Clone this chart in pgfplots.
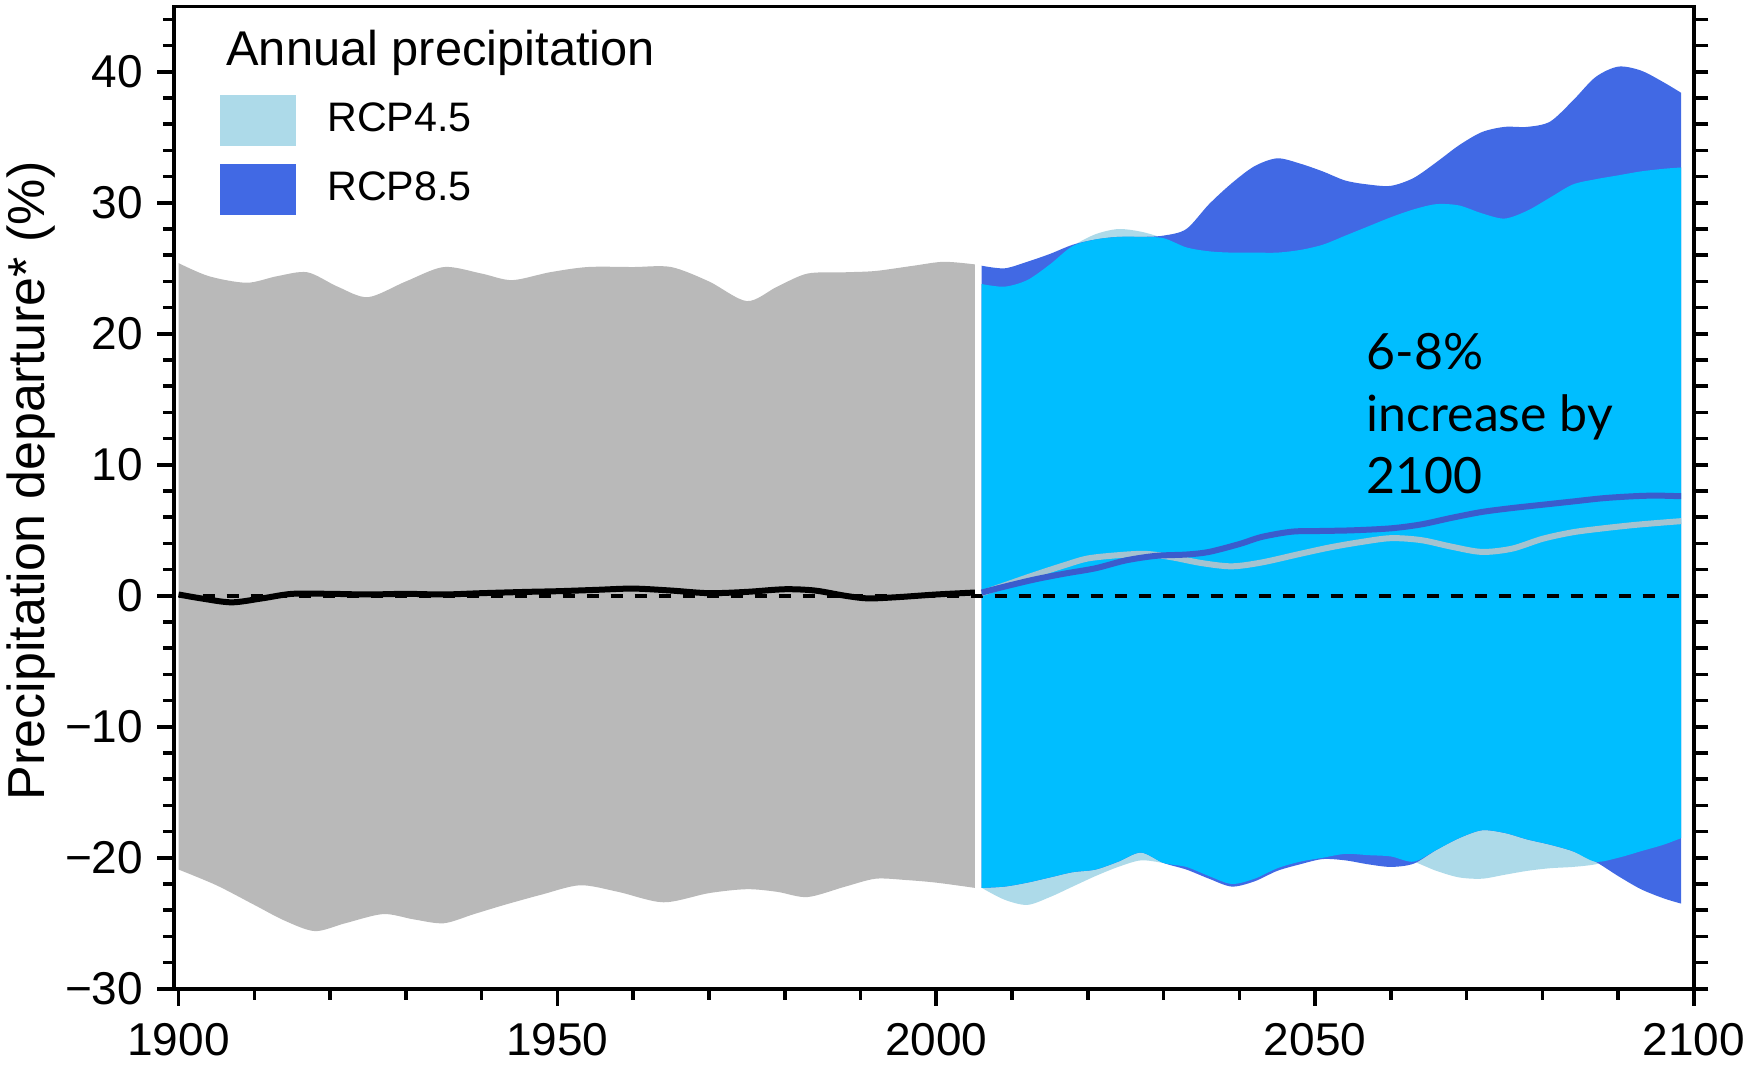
\documentclass[border=0pt]{standalone}
\usepackage{fontspec}
\setmainfont{Liberation Sans}
\newfontfamily\annofont{Lato}
\usepackage{pgfplots}
\usepackage{pgfplotstable}
\pgfplotsset{compat=1.18}
\usepgfplotslibrary{fillbetween}

\definecolor{histgray}{RGB}{185,185,185}
\definecolor{rcpfour}{RGB}{173,218,233}
\definecolor{rcpeight}{RGB}{65,105,228}
\definecolor{overlap}{RGB}{0,190,255}
\definecolor{meaneight}{RGB}{58,92,205}
\definecolor{meanfour}{RGB}{165,195,208}

% historical envelope and mean
\pgfplotstableread{
year hi
1900 25.4
1904 24.4
1909 23.9
1913 24.4
1917 24.7
1921 23.6
1925 22.8
1930 24.0
1935 25.1
1940 24.6
1944 24.1
1949 24.7
1954 25.1
1960 25.1
1965 25.1
1970 24.0
1975 22.5
1979 23.6
1983 24.6
1988 24.7
1992 24.8
1997 25.2
2001 25.5
2005.1 25.3
}\histhi
\pgfplotstableread{
year lo
1900 -20.9
1905 -22.1
1910 -23.6
1914 -24.8
1918 -25.6
1922 -25.0
1927 -24.3
1931 -24.7
1935 -25.0
1939 -24.3
1943 -23.6
1948 -22.8
1953 -22.1
1958 -22.6
1964 -23.4
1970 -22.7
1975 -22.4
1979 -22.6
1983 -23.0
1988 -22.2
1992 -21.6
1996 -21.7
2000 -21.9
2005.1 -22.3
}\histlo
\pgfplotstableread{
year mean
1900 0.1
1903 -0.2
1907 -0.5
1911 -0.2
1915 0.15
1920 0.15
1925 0.1
1930 0.15
1935 0.1
1940 0.2
1946 0.3
1950 0.35
1955 0.45
1960 0.55
1965 0.4
1970 0.2
1975 0.3
1980 0.5
1984 0.4
1988 0.0
1991 -0.2
1995 -0.1
2000 0.1
2005.1 0.25
}\histmean

% projected envelopes: u/l = upper/lower, ou/ol = overlap of both
\pgfplotstableread{
year u45 l45 u85 l85 ou ol
2006 23.8 -22.3 25.2 -22.3 23.8 -22.3
2009 23.6 -23.2 25.0 -22.2 23.6 -22.2
2012 24.1 -23.6 25.5 -21.9 24.1 -21.9
2015 25.3 -23.0 26.1 -21.5 25.3 -21.5
2018 26.7 -22.2 26.8 -21.1 26.7 -21.1
2021 27.6 -21.4 27.2 -20.9 27.2 -20.9
2024 28.0 -20.7 27.4 -20.3 27.4 -20.3
2027 27.8 -20.2 27.4 -19.6 27.4 -19.6
2030 27.3 -20.4 27.5 -20.4 27.3 -20.4
2033 26.6 -20.7 28.0 -20.9 26.6 -20.7
2036 26.3 -21.4 29.9 -21.6 26.3 -21.4
2039 26.2 -22.0 31.5 -22.2 26.2 -22.0
2042 26.2 -21.6 32.8 -21.8 26.2 -21.6
2045 26.2 -20.8 33.4 -21.0 26.2 -20.8
2048 26.4 -20.3 33.0 -20.5 26.4 -20.3
2051 26.8 -20.0 32.4 -20.1 26.8 -20.0
2054 27.5 -19.7 31.7 -20.2 27.5 -19.7
2057 28.2 -19.8 31.4 -20.5 28.2 -19.8
2060 28.9 -19.9 31.3 -20.7 28.9 -19.9
2063 29.5 -20.3 31.9 -20.45 29.5 -20.3
2066 29.9 -21.0 33.1 -19.4 29.9 -19.4
2069 29.8 -21.5 34.4 -18.5 29.8 -18.5
2072 29.2 -21.6 35.4 -17.9 29.2 -17.9
2075 28.8 -21.3 35.8 -18.1 28.8 -18.1
2078 29.4 -21.0 35.8 -18.6 29.4 -18.6
2081 30.4 -20.8 36.2 -19.0 30.4 -19.0
2084 31.4 -20.7 37.8 -19.5 31.4 -19.5
2087 31.8 -20.5 39.6 -20.3 31.8 -20.3
2090 32.1 -20.0 40.4 -21.4 32.1 -20.0
2093 32.4 -19.5 40.1 -22.4 32.4 -19.5
2096 32.6 -19.0 39.2 -23.1 32.6 -19.0
2098.3 32.7 -18.5 38.4 -23.5 32.7 -18.5
}\future

\pgfplotstableread{
year m85
2006 0.25
2009 0.7
2013 1.25
2017 1.7
2021 2.1
2025 2.7
2029 3.05
2033 3.15
2036 3.35
2040 3.95
2043 4.5
2047 4.9
2051 4.95
2055 5.0
2060 5.15
2064 5.45
2068 5.95
2072 6.4
2076 6.7
2080 6.95
2084 7.2
2088 7.45
2092 7.6
2095 7.65
2098.3 7.6
}\meaneightfive
\pgfplotstableread{
year m45
2006 0.2
2009 0.8
2013 1.6
2017 2.35
2020 2.85
2024 3.1
2027.6 3.2
2031 2.95
2035 2.5
2039 2.25
2043 2.55
2048 3.2
2052 3.7
2056 4.1
2060 4.4
2064 4.25
2068 3.75
2072 3.35
2076 3.6
2080 4.35
2084 4.85
2088 5.15
2092 5.4
2095 5.55
2098.3 5.7
}\meanfourfive

\begin{document}
\begin{tikzpicture}
\begin{axis}[
	scale only axis,
	width=380pt, height=245.6pt,
	xmin=1899.4, xmax=2100,
	ymin=-30, ymax=45,
	axis line style={line width=0.9pt},
	every tick/.style={black, line width=0.9pt},
	tick align=outside,
	xtick pos=left, ytick pos=left,
	major tick length=4.2pt, minor tick length=2.8pt,
	xtick={1900,1950,2000,2050,2100},
	xticklabels={1900,1950,2000,2050,2100},
	minor xtick={1910,1920,1930,1940,1960,1970,1980,1990,2010,2020,2030,2040,2060,2070,2080,2090},
	ytick={-30,-20,-10,0,10,20,30,40},
	yticklabels={−30,−20,−10,0,10,20,30,40},
	minor ytick={-28,-26,...,44},
	tick label style={font=\fontsize{11.5}{13}\selectfont},
	xticklabel style={yshift=-1pt},
	ylabel={Precipitation departure* (\%)},
	ylabel style={font=\fontsize{13}{15}\selectfont, at={(axis description cs:-0.094,0.517)}, anchor=center},
	legend style={at={(0.0296,0.9106)}, anchor=north west, draw=none, fill=none,
		inner sep=0pt, row sep=4.4pt, column sep=5.8pt,
		font=\fontsize{10.3}{12}\selectfont, cells={anchor=west}},
	legend image code/.code={\fill[#1] (0pt,-6.4pt) rectangle (19.1pt,6.4pt);},
]

% historical range
\addplot[name path=hhi, draw=none, smooth, forget plot] table[x=year, y=hi] {\histhi};
\addplot[name path=hlo, draw=none, smooth, forget plot] table[x=year, y=lo] {\histlo};
\addplot[histgray, forget plot] fill between[of=hhi and hlo];

% RCP4.5 range
\addplot[name path=u45, draw=none, smooth, forget plot] table[x=year, y=u45] {\future};
\addplot[name path=l45, draw=none, smooth, forget plot] table[x=year, y=l45] {\future};
\addplot[rcpfour, forget plot] fill between[of=u45 and l45];

% RCP8.5 range
\addplot[name path=u85, draw=none, smooth, forget plot] table[x=year, y=u85] {\future};
\addplot[name path=l85, draw=none, smooth, forget plot] table[x=year, y=l85] {\future};
\addplot[rcpeight, forget plot] fill between[of=u85 and l85];

% where both ranges overlap
\addplot[name path=ou, draw=none, smooth, forget plot] table[x=year, y=ou] {\future};
\addplot[name path=ol, draw=none, smooth, forget plot] table[x=year, y=ol] {\future};
\addplot[overlap, forget plot] fill between[of=ou and ol];

% zero reference
\addplot[black, line width=1pt, dash pattern=on 3.2pt off 2.8pt, forget plot] coordinates {(1900,0) (2098.3,0)};

% means
\addplot[black, line width=1.5pt, smooth, forget plot] table[x=year, y=mean] {\histmean};
\addplot[meanfour, line width=1.5pt, smooth, forget plot] table[x=year, y=m45] {\meanfourfive};
\addplot[meaneight, line width=1.5pt, smooth, forget plot] table[x=year, y=m85] {\meaneightfive};

\addlegendimage{fill=rcpfour, draw=none}
\addlegendentry{RCP4.5}
\addlegendimage{fill=rcpeight, draw=none}
\addlegendentry{RCP8.5}

\node[anchor=base west, inner sep=0pt, font=\fontsize{12.2}{14}\selectfont] at (axis cs:1906.2,40.5) {Annual precipitation};
\node[anchor=north west, inner sep=0pt, align=left, font=\annofont\fontsize{12.5}{15.5}\selectfont] at (axis cs:2056.7,20.1) {6-8\%\\increase by\\2100};
\end{axis}

% tick marks on the right-hand side
\begin{axis}[
	scale only axis,
	width=380pt, height=245.6pt,
	xmin=1899.4, xmax=2100,
	ymin=-30, ymax=45,
	hide x axis,
	axis y line*=right,
	axis line style={line width=0.9pt},
	every tick/.style={black, line width=0.9pt},
	tick align=outside,
	major tick length=3.6pt,
	ytick={-30,-28,...,44},
	yticklabels={},
]
\end{axis}

\pgfresetboundingbox
\path[use as bounding box] ([xshift=-43.5pt,yshift=-19.5pt]current axis.south west) rectangle ([xshift=13pt,yshift=1.6pt]current axis.north east);
\end{tikzpicture}
\end{document}
